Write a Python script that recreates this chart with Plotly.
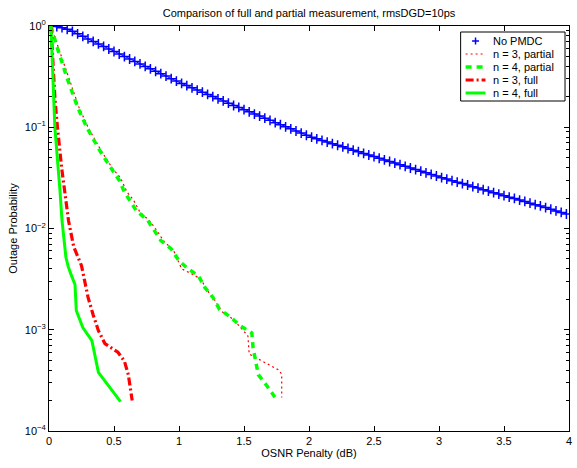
import plotly.graph_objects as go

# ---------------- data ----------------
x_nopmdc = [0.02, 0.06, 0.10, 0.14, 0.18, 0.22, 0.26, 0.30, 0.34, 0.38,
            0.42, 0.46, 0.50, 0.54, 0.58, 0.62, 0.66, 0.70, 0.74, 0.78,
            0.82, 0.86, 0.90, 0.94, 0.98, 1.02, 1.06, 1.10, 1.14, 1.18,
            1.22, 1.26, 1.30, 1.34, 1.38, 1.42, 1.46, 1.50, 1.54, 1.58,
            1.62, 1.66, 1.70, 1.74, 1.78, 1.82, 1.86, 1.90, 1.94, 1.98,
            2.02, 2.06, 2.10, 2.14, 2.18, 2.22, 2.26, 2.30, 2.34, 2.38,
            2.42, 2.46, 2.50, 2.54, 2.58, 2.62, 2.66, 2.70, 2.74, 2.78,
            2.82, 2.86, 2.90, 2.94, 2.98, 3.02, 3.06, 3.10, 3.14, 3.18,
            3.22, 3.26, 3.30, 3.34, 3.38, 3.42, 3.46, 3.50, 3.54, 3.58,
            3.62, 3.66, 3.70, 3.74, 3.78, 3.82, 3.86, 3.90, 3.94, 3.98]
y_nopmdc = [0.998, 0.987, 0.963, 0.929, 0.886, 0.837, 0.790, 0.746, 0.704, 0.665,
            0.628, 0.593, 0.560, 0.529, 0.499, 0.472, 0.447, 0.422, 0.399, 0.378,
            0.357, 0.338, 0.320, 0.302, 0.286, 0.271, 0.258, 0.245, 0.233, 0.222,
            0.211, 0.201, 0.191, 0.182, 0.173, 0.164, 0.157, 0.149, 0.142, 0.135,
            0.129, 0.123, 0.117, 0.111, 0.106, 0.101, 0.0964, 0.0918, 0.0875, 0.0834,
            0.0798, 0.0769, 0.0741, 0.0714, 0.0689, 0.0664, 0.0640, 0.0617, 0.0594, 0.0573,
            0.0552, 0.0532, 0.0513, 0.0494, 0.0476, 0.0459, 0.0443, 0.0427, 0.0411, 0.0396,
            0.0382, 0.0368, 0.0355, 0.0342, 0.0330, 0.0318, 0.0308, 0.0297, 0.0287, 0.0278,
            0.0269, 0.0259, 0.0251, 0.0242, 0.0234, 0.0226, 0.0219, 0.0211, 0.0204, 0.0198,
            0.0191, 0.0185, 0.0178, 0.0172, 0.0167, 0.0161, 0.0155, 0.0149, 0.0144, 0.0139]

x_n3_partial = [0.015, 0.07, 0.15, 0.23, 0.30, 0.40, 0.49, 0.55, 0.60, 0.65,
                0.70, 0.78, 0.84, 0.88, 0.96, 1.02, 1.10, 1.17, 1.21, 1.27,
                1.33, 1.42, 1.53, 1.54, 1.77, 1.79, 1.79]
y_n3_partial = [1.0, 0.63, 0.316, 0.158, 0.1, 0.059, 0.039, 0.0316, 0.0229, 0.0191,
                0.0145, 0.0117, 0.0091, 0.0076, 0.0060, 0.0040, 0.00355, 0.00316, 0.00251, 0.0020,
                0.00151, 0.00126, 0.00087, 0.000575, 0.000398, 0.000363, 0.000214]

x_n4_partial = [0.015, 0.06, 0.135, 0.22, 0.29, 0.39, 0.48, 0.54, 0.58, 0.62,
                0.67, 0.76, 0.81, 0.86, 0.94, 1.00, 1.07, 1.15, 1.20, 1.26,
                1.31, 1.40, 1.47, 1.56, 1.57, 1.59, 1.61, 1.68, 1.74]
y_n4_partial = [1.0, 0.63, 0.316, 0.158, 0.1, 0.059, 0.039, 0.030, 0.023, 0.019,
                0.0151, 0.012, 0.0095, 0.0076, 0.0063, 0.0048, 0.0040, 0.0034, 0.0026, 0.0021,
                0.0016, 0.00132, 0.0011, 0.00093, 0.00066, 0.00049, 0.00036, 0.000275, 0.000214]

x_n3_full = [0.015, 0.046, 0.065, 0.097, 0.15, 0.19, 0.25, 0.30, 0.34, 0.38,
             0.43, 0.53, 0.58, 0.61, 0.64]
y_n3_full = [1.0, 0.19, 0.1, 0.04, 0.012, 0.0066, 0.0043, 0.0021, 0.0014, 0.00098,
             0.00073, 0.0006, 0.00049, 0.00036, 0.0002]

x_n4_full = [0.015, 0.045, 0.084, 0.10, 0.13, 0.148, 0.17, 0.20, 0.21, 0.26,
             0.33, 0.38, 0.55]
y_n4_full = [1.0, 0.1, 0.024, 0.012, 0.0052, 0.0042, 0.0035, 0.0028, 0.00155, 0.00105,
             0.00078, 0.00038, 0.000195]

series_names = ["No PMDC", "n = 3, partial", "n = 4, partial", "n = 3, full", "n = 4, full"]

y_tick_vals = [1, 0.1, 0.01, 0.001, 0.0001]
y_tick_text = ["10<sup>0</sup>", "10<sup>\u22121</sup>", "10<sup>\u22122</sup>",
               "10<sup>\u22123</sup>", "10<sup>\u22124</sup>"]
y_minor_vals = [m * d for d in [1e-4, 1e-3, 1e-2, 1e-1] for m in range(2, 10)]
x_tick_vals = [0, 0.5, 1, 1.5, 2, 2.5, 3, 3.5, 4]
x_tick_text = ["0", "0.5", "1", "1.5", "2", "2.5", "3", "3.5", "4"]

# ---------------- styles ----------------
FONT = "Liberation Sans, Arial, Helvetica, sans-serif"
BLUE, RED, GREEN = "#0000ff", "#ff0000", "#00ff00"
styles = [
    None,
    dict(color=RED, width=1.2, dash="2px,3px"),
    dict(color=GREEN, width=3.5, dash="6px,5px"),
    dict(color=RED, width=3.2, dash="8px,3px,2px,3px"),
    dict(color=GREEN, width=3, dash="solid"),
]

W, H = 577, 468
ML, MR, MT, MB = 49, 5, 26, 37
PW, PH = W - ML - MR, H - MT - MB

def px2paper(px, py):
    return (px - ML) / PW, (H - MB - py) / PH

fig = go.Figure()

fig.add_trace(go.Scatter(
    x=x_nopmdc, y=y_nopmdc, mode="lines+markers", name=series_names[0],
    line=dict(color=BLUE, width=1),
    marker=dict(symbol="cross-thin", size=7, color=BLUE,
                line=dict(color=BLUE, width=1.5))))
for xs, ys, nm, st in [(x_n3_partial, y_n3_partial, series_names[1], styles[1]),
                       (x_n4_partial, y_n4_partial, series_names[2], styles[2]),
                       (x_n3_full, y_n3_full, series_names[3], styles[3]),
                       (x_n4_full, y_n4_full, series_names[4], styles[4])]:
    fig.add_trace(go.Scatter(x=xs, y=ys, mode="lines", name=nm, line=st))

# ---------------- compact legend (MATLAB-like) ----------------
shapes = []
annotations = []
bx0, by0 = px2paper(463, 101)
bx1, by1 = px2paper(568, 32)
shapes.append(dict(type="rect", xref="paper", yref="paper", x0=bx0, y0=by0, x1=bx1, y1=by1,
                   line=dict(color="black", width=1), fillcolor="white", layer="above"))
row_y = [41, 54, 67, 80, 93]
for i, (nm, ry) in enumerate(zip(series_names, row_y)):
    if i == 0:
        cx, cy = px2paper(478, ry)
        hx0, _ = px2paper(474.5, ry)
        hx1, _ = px2paper(481.5, ry)
        _, vy0 = px2paper(478, ry + 3.5)
        _, vy1 = px2paper(478, ry - 3.5)
        shapes.append(dict(type="line", xref="paper", yref="paper", x0=hx0, x1=hx1, y0=cy, y1=cy,
                           line=dict(color=BLUE, width=1.5), layer="above"))
        shapes.append(dict(type="line", xref="paper", yref="paper", x0=cx, x1=cx, y0=vy0, y1=vy1,
                           line=dict(color=BLUE, width=1.5), layer="above"))
    else:
        lx0, ly = px2paper(468, ry)
        lx1, _ = px2paper(488, ry)
        shapes.append(dict(type="line", xref="paper", yref="paper", x0=lx0, x1=lx1, y0=ly, y1=ly,
                           line=st_copy if False else styles[i], layer="above"))
    tx, ty = px2paper(494, ry)
    annotations.append(dict(text=nm, xref="paper", yref="paper", x=tx, y=ty,
                            xanchor="left", yanchor="middle", showarrow=False,
                            font=dict(size=11, color="black")))

fig.update_layout(
    width=W, height=H,
    margin=dict(l=ML, r=MR, t=MT, b=MB),
    paper_bgcolor="white", plot_bgcolor="white",
    font=dict(family=FONT, size=11, color="black"),
    title=dict(text="Comparison of full and partial measurement, rmsDGD=10ps",
               x=0.5, xref="paper", xanchor="center",
               y=1 - 13 / H, yref="container", yanchor="middle",
               font=dict(size=11)),
    showlegend=False,
    shapes=shapes,
    annotations=annotations,
)

fig.update_xaxes(
    range=[0, 4], tickvals=x_tick_vals, ticktext=x_tick_text,
    ticks="inside", ticklen=5, tickcolor="black", tickwidth=1,
    showline=True, linecolor="black", linewidth=1, mirror="ticks",
    showgrid=False, zeroline=False,
    title=dict(text="OSNR Penalty (dB)", standoff=3, font=dict(size=11)),
)
fig.update_yaxes(
    type="log", range=[-4, 0], tickvals=y_tick_vals, ticktext=y_tick_text,
    ticks="inside", ticklen=5, tickcolor="black", tickwidth=1,
    showline=True, linecolor="black", linewidth=1, mirror="ticks",
    showgrid=False, zeroline=False,
    minor=dict(tickvals=y_minor_vals, ticks="inside", ticklen=3,
               tickcolor="black", showgrid=False),
    title=dict(text="Outage Probability", standoff=4, font=dict(size=11)),
)

fig.write_html("out.html")
